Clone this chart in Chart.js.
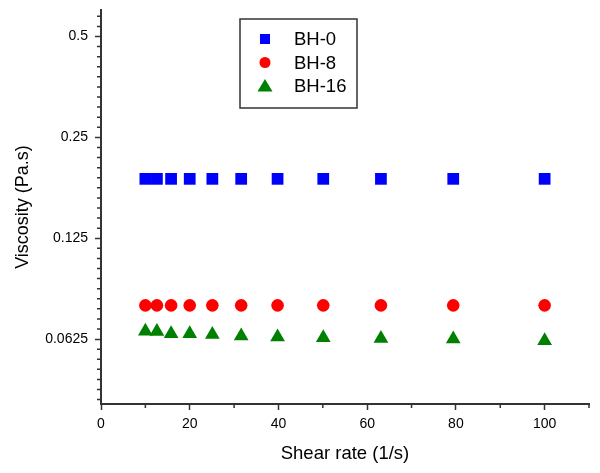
<!DOCTYPE html>
<html>
<head>
<meta charset="utf-8">
<script src="https://cdn.jsdelivr.net/npm/chart.js@4.4.1/dist/chart.umd.min.js"></script>
<style>
  html, body { margin: 0; padding: 0; background: #fff; }
</style>
</head>
<body>
<canvas id="viscosityChart" width="600" height="473"></canvas>
<script>
var shearRate = [10, 12.6, 15.8, 20, 25.1, 31.6, 39.8, 50.1, 63.1, 79.4, 100];
var bh0 = [0.188, 0.188, 0.188, 0.188, 0.188, 0.188, 0.188, 0.188, 0.188, 0.188, 0.188];
var bh8 = [0.0788, 0.0788, 0.0788, 0.0788, 0.0788, 0.0788, 0.0788, 0.0788, 0.0788, 0.0788, 0.0788];
var bh16 = [0.0660, 0.0658, 0.0648, 0.0648, 0.0645, 0.0638, 0.0634, 0.0631, 0.0627, 0.0625, 0.0618];
var xTicks = [0, 20, 40, 60, 80, 100];
var xMinor = [10, 30, 50, 70, 90, 110];
var yTicks = [0.0625, 0.125, 0.25, 0.5];

var axisColor = '#333';

function toPoints(ys) {
  return shearRate.map(function (x, i) { return { x: x, y: ys[i] }; });
}

// short ticks between the labelled ones, like the original plot
var minorTicks = {
  id: 'minorTicks',
  afterDraw: function (chart) {
    var ctx = chart.ctx, xs = chart.scales.x, ys = chart.scales.y;
    ctx.save();
    ctx.strokeStyle = axisColor;
    ctx.lineWidth = 1.5;
    ctx.beginPath();
    xMinor.forEach(function (v) {
      var px = xs.getPixelForValue(v);
      ctx.moveTo(px, xs.top);
      ctx.lineTo(px, xs.top + 4);
    });
    var start = yTicks[0] / 2;
    for (var b = start; b <= yTicks[yTicks.length - 1]; b *= 2) {
      for (var k = 1; k < 10; k++) {
        var v = b * Math.pow(2, k / 10);
        if (v < ys.min || v > ys.max) continue;
        var py = ys.getPixelForValue(v);
        ctx.moveTo(ys.right, py);
        ctx.lineTo(ys.right - 4, py);
      }
    }
    ctx.stroke();
    ctx.restore();
  }
};

// boxed legend inside the plot area
var boxLegend = {
  id: 'boxLegend',
  afterDraw: function (chart) {
    var ctx = chart.ctx;
    var left = 240, top = 19, w = 117, h = 89;
    ctx.save();
    ctx.fillStyle = '#fff';
    ctx.fillRect(left, top, w, h);
    ctx.strokeStyle = axisColor;
    ctx.lineWidth = 1.5;
    ctx.strokeRect(left, top, w, h);
    ctx.font = '18.5px "Liberation Sans", Arial, sans-serif';
    ctx.textBaseline = 'middle';
    chart.data.datasets.forEach(function (ds, i) {
      var cy = top + 20 + i * 23.5, cx = left + 25;
      ctx.fillStyle = ds.backgroundColor;
      ctx.beginPath();
      if (ds.pointStyle === 'rect') {
        ctx.rect(cx - 5, cy - 5, 10, 10);
      } else if (ds.pointStyle === 'circle') {
        ctx.arc(cx, cy, 5.5, 0, Math.PI * 2);
      } else {
        ctx.moveTo(cx, cy - 7);
        ctx.lineTo(cx + 7.5, cy + 5.5);
        ctx.lineTo(cx - 7.5, cy + 5.5);
        ctx.closePath();
      }
      ctx.fill();
      ctx.fillStyle = '#000';
      ctx.fillText(ds.label, left + 54, cy + 1);
    });
    ctx.restore();
  }
};

new Chart('viscosityChart', {
  type: 'scatter',
  data: {
    datasets: [{
      label: 'BH-0',
      data: toPoints(bh0),
      pointStyle: 'rect',
      pointRadius: 8.3,
      backgroundColor: '#0000ff',
      borderColor: '#0000ff',
      pointBorderWidth: 0
    }, {
      label: 'BH-8',
      data: toPoints(bh8),
      pointStyle: 'circle',
      pointRadius: 6.3,
      backgroundColor: '#ff0000',
      borderColor: '#ff0000',
      pointBorderWidth: 0
    }, {
      label: 'BH-16',
      data: toPoints(bh16),
      pointStyle: 'triangle',
      pointRadius: 8.5,
      backgroundColor: '#008000',
      borderColor: '#008000',
      pointBorderWidth: 0
    }]
  },
  options: {
    responsive: false,
    animation: false,
    events: [],
    layout: { padding: { left: 12, right: 11, top: 10, bottom: 8 } },
    plugins: {
      legend: { display: false },
      tooltip: { enabled: false }
    },
    scales: {
      x: {
        type: 'linear',
        min: 0,
        max: 110,
        afterBuildTicks: function (scale) {
          scale.ticks = xTicks.map(function (v) { return { value: v }; });
        },
        afterFit: function (scale) {
          scale.height = 61;
          scale.paddingLeft = 0;
          scale.paddingRight = 0;
        },
        border: { color: axisColor, width: 2 },
        grid: { drawOnChartArea: false, drawTicks: true, tickLength: 6, tickColor: axisColor, tickWidth: 1.5 },
        ticks: {
          padding: 6,
          color: '#000',
          font: { family: '"Liberation Sans", Arial, sans-serif', size: 14 }
        },
        title: {
          display: true,
          text: 'Shear rate (1/s)',
          color: '#000',
          padding: 0,
          font: { family: '"Liberation Sans", Arial, sans-serif', size: 18.5 }
        }
      },
      y: {
        type: 'logarithmic',
        min: 0.04,
        max: 0.6,
        afterBuildTicks: function (scale) {
          scale.ticks = yTicks.map(function (v) { return { value: v }; });
        },
        afterFit: function (scale) {
          scale.width = 89;
          scale.paddingTop = 0;
          scale.paddingBottom = 0;
        },
        border: { color: axisColor, width: 2 },
        grid: { drawOnChartArea: false, drawTicks: true, tickLength: 6, tickColor: axisColor, tickWidth: 1.5 },
        ticks: {
          padding: 7,
          color: '#000',
          font: { family: '"Liberation Sans", Arial, sans-serif', size: 14 },
          callback: function (value) { return String(value); }
        },
        title: {
          display: true,
          text: 'Viscosity (Pa.s)',
          color: '#000',
          padding: 0,
          font: { family: '"Liberation Sans", Arial, sans-serif', size: 18 }
        }
      }
    }
  },
  plugins: [minorTicks, boxLegend]
});
</script>
</body>
</html>
